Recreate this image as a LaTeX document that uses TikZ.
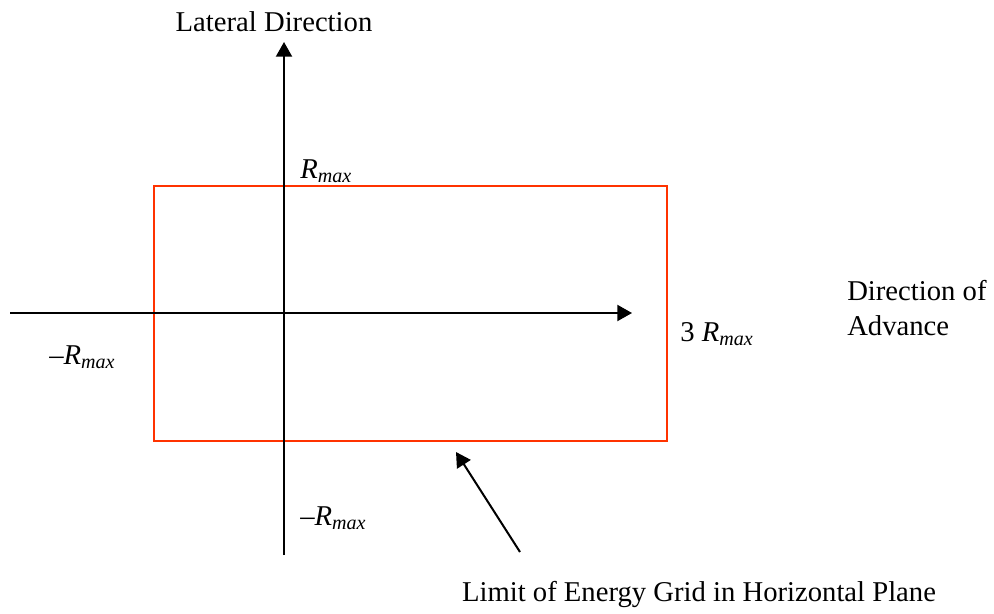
\documentclass[tikz,border=0pt]{standalone}
\usepackage{fontspec}
\setmainfont{Liberation Serif}
\usetikzlibrary{arrows.meta}
\definecolor{gridred}{HTML}{FF3300}
\newcommand{\Rmx}{\textit{R\textsubscript{max}}}
\tikzset{
  axis/.style={line width=1.5pt, -{Triangle[length=11pt,width=12pt]}},
  pointer/.style={line width=1.5pt, -{Triangle[length=11pt,width=12pt]}},
  gridbox/.style={draw=gridred, line width=1.5pt},
  lbl/.style={inner sep=0pt, font=\fontsize{21.5}{26}\selectfont},
}
\begin{document}
\begin{tikzpicture}[x=0.75pt,y=-0.75pt]
\useasboundingbox (0,0) rectangle (994,613);
% energy grid limit
\draw[gridbox] (154,186) rectangle (667,441);
% axes
\coordinate (vbot) at (284,555);
\coordinate (vtop) at (284,42);
\coordinate (hleft) at (10,313);
\coordinate (hright) at (632,313);
\draw[axis] (vbot) -- (vtop);
\draw[axis] (hleft) -- (hright);
% labels
\node[lbl] (lat) at (274,22) {Lateral Direction};
\node[lbl, anchor=west] (rtop) at (300,171) {\Rmx};
\node[lbl, anchor=west] (r3) at (680,334) {3 \Rmx};
\node[lbl, anchor=west] (rleft) at (49,357) {–\Rmx};
\node[lbl, anchor=west] (rbot) at (300,518) {–\Rmx};
\node[lbl, align=left, anchor=west] (adv) at (847,308) {Direction of\\Advance};
\node[lbl] (limit) at (699,594) {Limit of Energy Grid in Horizontal Plane};
% pointer
\coordinate (ptail) at (520,552);
\coordinate (ptip) at (456,452);
\draw[pointer] (ptail) -- (ptip);
\end{tikzpicture}
\end{document}
